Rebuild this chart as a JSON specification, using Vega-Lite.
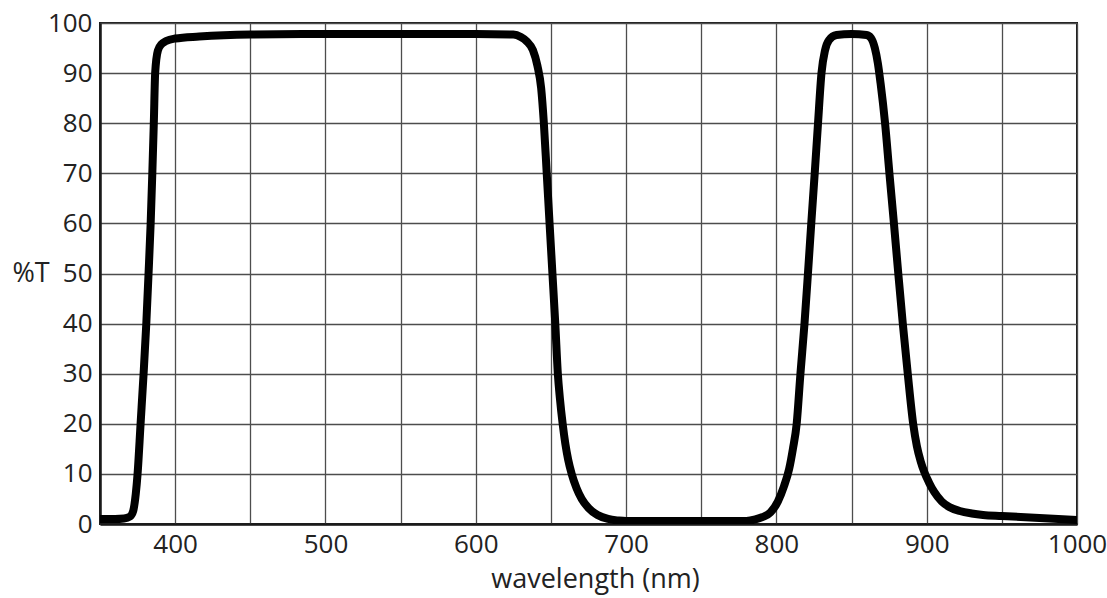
{
  "$schema": "https://vega.github.io/schema/vega-lite/v6.json",
  "width": 977,
  "height": 501,
  "autosize": {"type": "none"},
  "padding": {"left": 100, "top": 23, "right": 30, "bottom": 74},
  "background": "white",
  "config": {
    "view": {"stroke": "#1a1a1a", "strokeWidth": 2},
    "font": "Open Sans"
  },
  "data": {
    "values": [
      {"wl": 350, "t": 1.0}, {"wl": 360, "t": 1.0}, {"wl": 366, "t": 1.1},
      {"wl": 370, "t": 1.5}, {"wl": 372, "t": 2.5}, {"wl": 373.8, "t": 6},
      {"wl": 375, "t": 10}, {"wl": 377, "t": 20}, {"wl": 379, "t": 30},
      {"wl": 380.8, "t": 40}, {"wl": 382.3, "t": 50}, {"wl": 383.7, "t": 60},
      {"wl": 384.8, "t": 70}, {"wl": 385.8, "t": 80}, {"wl": 386.7, "t": 90},
      {"wl": 388.5, "t": 94.5}, {"wl": 391, "t": 95.8}, {"wl": 394, "t": 96.4},
      {"wl": 400, "t": 96.9}, {"wl": 416, "t": 97.3}, {"wl": 450, "t": 97.7},
      {"wl": 500, "t": 97.8}, {"wl": 600, "t": 97.8}, {"wl": 625, "t": 97.7},
      {"wl": 630, "t": 97.2}, {"wl": 634, "t": 96.3}, {"wl": 638, "t": 94.6},
      {"wl": 641, "t": 91.5}, {"wl": 643.5, "t": 87}, {"wl": 645.3, "t": 80},
      {"wl": 647.2, "t": 70}, {"wl": 649.1, "t": 60}, {"wl": 651, "t": 50},
      {"wl": 652.9, "t": 40}, {"wl": 654.6, "t": 30}, {"wl": 656, "t": 25},
      {"wl": 657.8, "t": 20}, {"wl": 659.6, "t": 16}, {"wl": 661.5, "t": 12.8},
      {"wl": 663.8, "t": 10}, {"wl": 667, "t": 7.2}, {"wl": 670.5, "t": 5},
      {"wl": 675, "t": 3.2}, {"wl": 681, "t": 1.8},
      {"wl": 688, "t": 1.0}, {"wl": 695, "t": 0.7}, {"wl": 700, "t": 0.6},
      {"wl": 780, "t": 0.6}, {"wl": 786, "t": 0.9}, {"wl": 791, "t": 1.4},
      {"wl": 796, "t": 2.3}, {"wl": 801, "t": 4.5}, {"wl": 805, "t": 7.5},
      {"wl": 808.5, "t": 11}, {"wl": 811, "t": 15}, {"wl": 813.5, "t": 20},
      {"wl": 816, "t": 30}, {"wl": 818.7, "t": 40}, {"wl": 821, "t": 50},
      {"wl": 823.2, "t": 60}, {"wl": 825.5, "t": 70}, {"wl": 827.7, "t": 80},
      {"wl": 830, "t": 90}, {"wl": 832.4, "t": 94.6}, {"wl": 835, "t": 96.6},
      {"wl": 840, "t": 97.6}, {"wl": 850, "t": 97.8}, {"wl": 860, "t": 97.6},
      {"wl": 863, "t": 97.0}, {"wl": 865.5, "t": 95}, {"wl": 867.5, "t": 92},
      {"wl": 869.3, "t": 88}, {"wl": 872.3, "t": 80}, {"wl": 875.2, "t": 70},
      {"wl": 878.2, "t": 60}, {"wl": 881.1, "t": 50}, {"wl": 884.1, "t": 40},
      {"wl": 887.4, "t": 30}, {"wl": 891, "t": 20}, {"wl": 893.5, "t": 15.5},
      {"wl": 896, "t": 12.5}, {"wl": 898.5, "t": 10.3}, {"wl": 901.5, "t": 8.3},
      {"wl": 905, "t": 6.4}, {"wl": 910, "t": 4.5}, {"wl": 915, "t": 3.4},
      {"wl": 922, "t": 2.6}, {"wl": 930, "t": 2.1}, {"wl": 937.5, "t": 1.8},
      {"wl": 950, "t": 1.6}, {"wl": 975, "t": 1.2}, {"wl": 1000, "t": 0.8}
    ]
  },
  "mark": {
    "type": "line",
    "color": "#000000",
    "strokeWidth": 8,
    "strokeCap": "round",
    "strokeJoin": "round",
    "interpolate": "monotone",
    "clip": true
  },
  "encoding": {
    "x": {
      "field": "wl",
      "type": "quantitative",
      "scale": {"domain": [350, 1000], "nice": false, "zero": false},
      "axis": {
        "title": "wavelength (nm)",
        "values": [350, 400, 450, 500, 550, 600, 650, 700, 750, 800, 850, 900, 950, 1000],
        "labelExpr": "datum.value % 100 == 0 ? format(datum.value, 'd') : ''",
        "ticks": false,
        "labelPadding": 7,
        "labelDx": -4,
        "labelFontSize": 26,
        "labelColor": "#222222",
        "labelFlush": false,
        "labelOverlap": false,
        "domainColor": "#1a1a1a",
        "domainWidth": 2.5,
        "grid": true,
        "gridColor": "#4d4d4d",
        "gridWidth": 1.3,
        "titleFontSize": 27,
        "titleFontWeight": "normal",
        "titleColor": "#222222",
        "titleX": 495,
        "titleY": 63,
        "titleBaseline": "alphabetic",
        "titleAlign": "center"
      }
    },
    "y": {
      "field": "t",
      "type": "quantitative",
      "scale": {"domain": [0, 100], "nice": false},
      "axis": {
        "title": "%T",
        "values": [0, 10, 20, 30, 40, 50, 60, 70, 80, 90, 100],
        "ticks": false,
        "labelPadding": 8,
        "labelFontSize": 26,
        "labelColor": "#222222",
        "labelFlush": false,
        "labelOverlap": false,
        "domainColor": "#1a1a1a",
        "domainWidth": 2.5,
        "grid": true,
        "gridColor": "#4d4d4d",
        "gridWidth": 1.3,
        "titleFontSize": 27,
        "titleFontWeight": "normal",
        "titleColor": "#222222",
        "titleAngle": 0,
        "titleAlign": "left",
        "titleBaseline": "middle",
        "titleX": -88,
        "titleY": 250
      }
    }
  }
}
